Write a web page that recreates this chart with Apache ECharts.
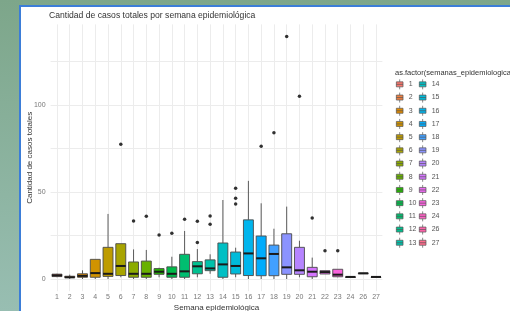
<!DOCTYPE html>
<html>
<head>
<meta charset="utf-8">
<script src="https://cdn.jsdelivr.net/npm/echarts@6/dist/echarts.min.js"></script>
<style>
  html, body { margin: 0; padding: 0; width: 510px; height: 311px; overflow: hidden;
    background: linear-gradient(to bottom, #7da68a, #98beb2); }
  .card { position: absolute; left: 19px; top: 5px; right: -10px; bottom: -10px;
    background: #fff; border-left: 2px solid #3b7dd8; border-top: 2px solid #3b7dd8; }
  #chart { position: absolute; left: 0; top: 0; width: 510px; height: 311px; }
</style>
</head>
<body>
<div class="card"></div>
<div id="chart"></div>
<script>
// semanas epidemiologicas (no hay semana 25)
var weeks = ['1','2','3','4','5','6','7','8','9','10','11','12','13','14','15','16','17','18','19','20','21','22','23','24','26','27'];
// bigotes y cuartiles
var lowWhisker = [1, 0, 0, 0, 0, 1, 0, 0, 1, 0, 0, 1, 3, 0, 1, 0, 0, 0, 0, 1, 0, 2.9, 1, 1.2, 3.3, 1.2];
var q1 =         [1.4, 0.8, 1, 1, 1.5, 2, 1, 1, 2.7, 1, 1, 3, 4.8, 1, 2.9, 2, 1.9, 1.9, 2.7, 2.7, 1.3, 2.9, 1.3, 1.2, 3.3, 1.2];
var medians =    [2.1, 1, 1.8, 3.4, 3, 7.5, 3, 3, 4.2, 3, 4.4, 7.3, 6.1, 8.4, 7.5, 14.7, 11.9, 14.4, 6.7, 5, 4.2, 4, 2.5, 1.2, 3.3, 1.2];
var q3 =         [2.8, 1.6, 3, 11.3, 18.2, 20.3, 9.8, 10.3, 6, 7, 14.2, 10, 11, 20.7, 15.5, 34, 24.7, 19.5, 26, 18.2, 6.7, 4.8, 5.6, 1.2, 3.3, 1.2];
var highWhisker =[3, 2.5, 5, 11.3, 37.4, 20.3, 17, 16.7, 6.5, 12.8, 27.6, 17.2, 14.2, 45.4, 18, 56.4, 43.5, 28.9, 41.6, 22, 12.3, 4.8, 5.6, 1.2, 3.3, 1.2];
// valores atipicos
var outlierWeek = ['6','7','8','9','10','11','12','12','13','13','15','15','15','17','18','19','20','21','22','23'];
var outlierValue = [77.4, 33.3, 36, 25.3, 26.3, 34.3, 21, 33.2, 31.4, 36.2, 43.1, 46.4, 52.1, 76.3, 84, 139.3, 105, 35, 16.3, 16.3];

var font = 'Liberation Sans, Arial, sans-serif';

// paleta por defecto de ggplot (hue_pal, l=65, c=100)
function hcl(h, c, l) {
  var hr = h * Math.PI / 180;
  var U = c * Math.cos(hr), V = c * Math.sin(hr);
  var Xn = 95.047, Yn = 100, Zn = 108.883;
  var Y = l > 8 ? Yn * Math.pow((l + 16) / 116, 3) : Yn * l / 903.3;
  var den = Xn + 15 * Yn + 3 * Zn;
  var up = U / (13 * l) + 4 * Xn / den, vp = V / (13 * l) + 9 * Yn / den;
  var X = 9 * Y * up / (4 * vp);
  var Z = Y * (12 - 3 * up - 20 * vp) / (4 * vp);
  X /= 100; Y /= 100; Z /= 100;
  var rgb = [
    3.240479 * X - 1.53715 * Y - 0.498535 * Z,
    -0.969256 * X + 1.875992 * Y + 0.041556 * Z,
    0.055648 * X - 0.204043 * Y + 1.057311 * Z
  ];
  return '#' + rgb.map(function (v) {
    v = v <= 0.0031308 ? 12.92 * v : 1.055 * Math.pow(v, 1 / 2.4) - 0.055;
    v = Math.max(0, Math.min(1, v));
    var s = Math.round(v * 255).toString(16);
    return s.length < 2 ? '0' + s : s;
  }).join('');
}
var colors = weeks.map(function (w, i) { return hcl(15 + 360 * i / weeks.length, 100, 65); });

function renderBox(params, api) {
  var x = api.value(0);
  var lo = api.coord([x, api.value(1)]);
  var b1 = api.coord([x, api.value(2)]);
  var md = api.coord([x, api.value(3)]);
  var b3 = api.coord([x, api.value(4)]);
  var hi = api.coord([x, api.value(5)]);
  var bw = api.size([1, 0])[0] * 0.78;
  var cx = md[0];
  var stroke = { stroke: '#4a4a4a', lineWidth: 0.9 };
  return {
    type: 'group',
    children: [
      { type: 'line', shape: { x1: cx, y1: b3[1], x2: cx, y2: hi[1] }, style: stroke },
      { type: 'line', shape: { x1: cx, y1: b1[1], x2: cx, y2: lo[1] }, style: stroke },
      { type: 'rect', shape: { x: cx - bw / 2, y: b3[1], width: bw, height: Math.max(b1[1] - b3[1], 0.5) },
        style: { fill: api.visual('color'), stroke: '#4a4a4a', lineWidth: 0.9 } },
      { type: 'line', shape: { x1: cx - bw / 2, y1: md[1], x2: cx + bw / 2, y2: md[1] },
        style: { stroke: '#1a1a1a', lineWidth: 2 } }
    ]
  };
}

var series = weeks.map(function (w, i) {
  return {
    name: w,
    type: 'custom',
    renderItem: renderBox,
    itemStyle: { color: colors[i], borderColor: '#555', borderWidth: 0.7 },
    encode: { x: 0, y: [1, 2, 3, 4, 5] },
    data: [[i, lowWhisker[i], q1[i], medians[i], q3[i], highWhisker[i]]],
    z: 2
  };
});
series.push({
  name: 'atipicos',
  type: 'scatter',
  symbolSize: 3.5,
  itemStyle: { color: '#000' },
  data: outlierWeek.map(function (w, k) { return [weeks.indexOf(w), outlierValue[k]]; }),
  z: 3
});

var chart = echarts.init(document.getElementById('chart'), null, { renderer: 'canvas' });
chart.setOption({
  animation: false,
  backgroundColor: 'transparent',
  textStyle: { fontFamily: font },
  title: [
    { text: 'Cantidad de casos totales por semana epidemiológica', left: 49, top: 11, padding: 0,
      textStyle: { fontSize: 8.6, fontWeight: 'normal', color: '#333', fontFamily: font } },
    { text: 'as.factor(semanas_epidemiologicas)', left: 395, top: 69, padding: 0,
      textStyle: { fontSize: 7.5, fontWeight: 'normal', color: '#333', fontFamily: font } }
  ],
  legend: {
    data: weeks,
    orient: 'vertical',
    left: 396, top: 79, height: 182,
    padding: 0,
    itemWidth: 8, itemHeight: 10, itemGap: 2.5,
    icon: 'path://M0,3H8V9H0ZM4,0V3M4,9V12M0,6H8',
    itemStyle: { borderColor: '#555', borderWidth: 0.7 },
    textStyle: { fontSize: 7, color: '#555', fontFamily: font, lineHeight: 10 }
  },
  grid: { left: 50.6, right: 127.6, top: 24.4, bottom: 19.8, outerBoundsMode: 'none' },
  xAxis: {
    type: 'category',
    data: weeks,
    name: 'Semana epidemiológica',
    nameLocation: 'middle',
    nameGap: 13,
    nameMoveOverlap: false,
    nameTextStyle: { fontSize: 8, color: '#333', fontFamily: font },
    axisLine: { show: false },
    axisTick: { show: false, alignWithLabel: true },
    axisLabel: { fontSize: 7, color: '#777', margin: 2, interval: 0 },
    splitLine: { show: true, alignWithLabel: true, lineStyle: { color: '#ececec', width: 1 } }
  },
  yAxis: {
    type: 'value',
    min: -7, max: 146.3,
    name: 'Cantidad de casos totales',
    nameLocation: 'middle',
    nameGap: 16.5,
    nameMoveOverlap: false,
    nameTextStyle: { fontSize: 8, color: '#333', fontFamily: font },
    axisLine: { show: false },
    axisTick: { show: false, customValues: [0, 25, 50, 75, 100, 125] },
    axisLabel: { fontSize: 7, color: '#777', margin: 5, customValues: [0, 50, 100] },
    splitLine: { show: true, lineStyle: { color: '#ececec', width: 1 } }
  },
  series: series
});
</script>
</body>
</html>
